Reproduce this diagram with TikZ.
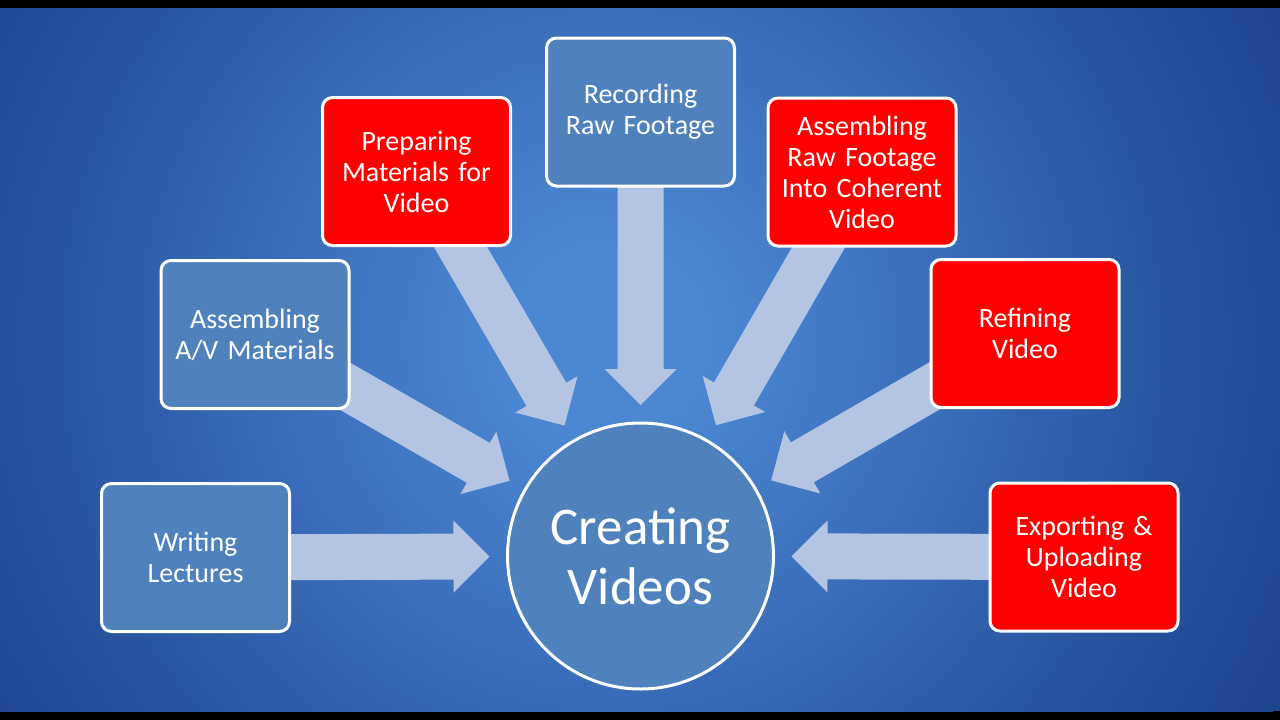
\documentclass[tikz,border=0pt]{standalone}
\usepackage{fontspec}
\setmainfont{Carlito}
\usetikzlibrary{calc}
\definecolor{bgin}{HTML}{4C88D2}
\definecolor{bgmid}{HTML}{3A6DBA}
\definecolor{bgdark}{HTML}{25509A}
\definecolor{bgout}{HTML}{1D458E}
\definecolor{boxblue}{HTML}{4F81BD}
\definecolor{boxred}{HTML}{FF0000}
\definecolor{arrowcol}{HTML}{B4C5E3}
\pgfdeclareradialshading{bgshade}{\pgfpoint{0bp}{0bp}}{color(0bp)=(bgin); color(3bp)=(bgin); color(11bp)=(bgmid); color(20bp)=(bgdark); color(25bp)=(bgout); color(50bp)=(bgout)}
\pgfdeclarelayer{bglayer}
\pgfdeclarelayer{arrowlayer}
\pgfsetlayers{bglayer,arrowlayer,main}
\tikzset{
  box/.style={draw=white, line width=3pt, rounded corners=10pt, minimum width=188pt, minimum height=148pt,
    text width=184pt, align=center, inner sep=0pt, text=white, font=\fontsize{28}{31}\selectfont},
  bluebox/.style={box, fill=boxblue},
  redbox/.style={box, fill=boxred},
  hub/.style={circle, draw=white, line width=3pt, fill=boxblue, minimum size=266pt, inner sep=0pt,
    align=center, text=white, font=\fontsize{53}{60}\selectfont},
  arrowfill/.style={fill=arrowcol}
}
\newcommand\blockarr[3]{%
  \coordinate (#3-t) at ($(#2)!151pt!(#1)$);
  \coordinate (#3-h) at ($(#3-t)!36pt!(#1)$);
  \fill[arrowfill] ($(#1)!23pt!90:(#3-t)$) -- ($(#3-h)!23pt!-90:(#1)$) -- ($(#3-h)!36pt!-90:(#1)$) -- (#3-t)
    -- ($(#3-h)!36pt!90:(#1)$) -- ($(#3-h)!23pt!90:(#1)$) -- ($(#1)!23pt!-90:(#3-t)$) -- cycle;}
\begin{document}
\begin{tikzpicture}[x=1pt,y=-1pt]
\useasboundingbox (0,0) rectangle (1280,720);
\begin{pgfonlayer}{bglayer}
  \fill[black] (0,0) rectangle (1280,720);
  \begin{scope}
    \clip (0,8) rectangle (1280,711);
    \fill[bgout] (0,8) rectangle (1280,711);
    \shade[shading=bgshade] (610,340) circle (760);
  \end{scope}
\end{pgfonlayer}

\node[hub] (hub) at (640.5,556) {Creating\\Videos};
\node[bluebox] (w) at (195.5,557.5) {Writing\\Lectures};
\node[bluebox] (av) at (255,334.5) {Assembling\\A/V Materials};
\node[redbox] (prep) at (416.5,171.5) {Preparing\\Materials for\\Video};
\node[bluebox] (rec) at (640.5,112) {Recording\\Raw Footage};
\node[redbox] (arf) at (862,172) {Assembling\\Raw Footage\\Into Coherent\\Video};
\node[redbox] (ref) at (1025,333.5) {Refining\\Video};
\node[redbox] (exp) at (1084,557) {Exporting \&\\Uploading\\Video};

\begin{pgfonlayer}{arrowlayer}
  \blockarr{w}{hub}{a1}
  \blockarr{av}{hub}{a2}
  \blockarr{prep}{hub}{a3}
  \blockarr{rec}{hub}{a4}
  \blockarr{arf}{hub}{a5}
  \blockarr{ref}{hub}{a6}
  \blockarr{exp}{hub}{a7}
\end{pgfonlayer}
\end{tikzpicture}
\end{document}
